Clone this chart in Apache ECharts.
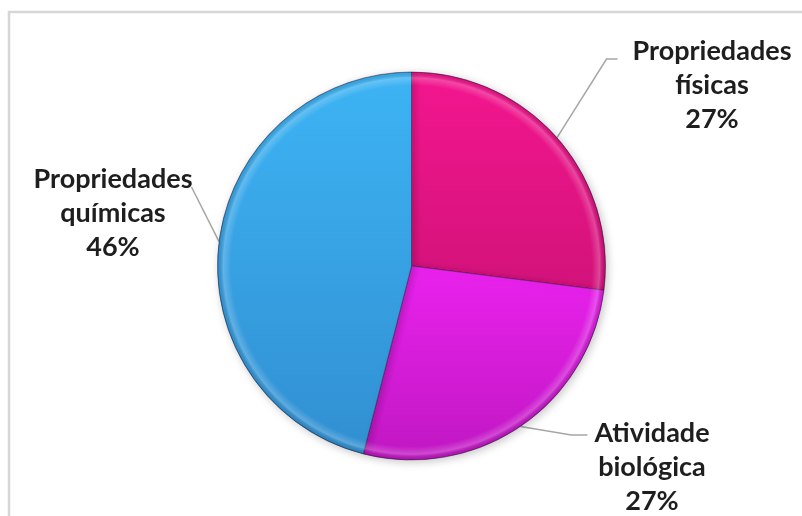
<!DOCTYPE html>
<html>
<head>
<meta charset="utf-8">
<script src="https://cdn.jsdelivr.net/npm/echarts@6/dist/echarts.min.js"></script>
<style>
  html, body { margin: 0; padding: 0; background: #ffffff; }
  #chart { width: 802px; height: 516px; }
</style>
</head>
<body>
<div id="chart"></div>
<script>
// Share of topics (percent), clockwise from 12 o'clock
const categories = ['Propriedades\nfísicas', 'Atividade\nbiológica', 'Propriedades\nquímicas'];
const values = [27, 27, 46];

// slice fill: lighter at the top, darker towards the bottom
const sliceTop = ['#F4168F', '#EA22EE', '#3DB4F5'];
const sliceBottom = ['#D2127A', '#C017C2', '#318FD1'];

const CX = 411.5, CY = 266, R = 194;
const LINE_H = 34;

// where each label block is centred and how its leader line attaches
const labelPlacement = [
  { x: 712, y: 85, side: 'left', gap: 15, dy: 8, elbow: 11 },
  { x: 652, y: 467, side: 'left', gap: 7, dy: 2, elbow: 16 },
  { x: 113, y: 213, side: 'right', gap: -1, dy: 8, elbow: 0 }
];

const chart = echarts.init(document.getElementById('chart'));

const pieData = categories.map(function (name, i) {
  return {
    name: name,
    value: values[i],
    itemStyle: {
      color: new echarts.graphic.LinearGradient(0, 0, 0, 1, [
        { offset: 0, color: sliceTop[i] },
        { offset: 1, color: sliceBottom[i] }
      ])
    }
  };
});

chart.setOption({
  backgroundColor: '#ffffff',
  animation: false,
  graphic: [{
    type: 'rect',
    silent: true,
    z: -10,
    shape: { x: 9, y: 12, width: 820, height: 540 },
    style: { fill: 'none', stroke: '#D6D6D6', lineWidth: 2.5 }
  }],
  series: [
    {
      type: 'pie',
      center: [CX, CY],
      radius: R,
      startAngle: 90,
      clockwise: true,
      avoidLabelOverlap: false,
      percentPrecision: 0,
      data: pieData,
      itemStyle: {
        borderColor: 'rgba(40, 20, 60, 0.45)',
        borderWidth: 1,
        shadowBlur: 8,
        shadowColor: 'rgba(0, 0, 0, 0.22)',
        shadowOffsetX: 2,
        shadowOffsetY: 2
      },
      label: {
        show: true,
        position: 'outside',
        formatter: '{b}\n{d}%',
        fontFamily: 'Lato',
        fontWeight: 'bold',
        fontSize: 27,
        lineHeight: LINE_H,
        color: '#1E1E1E',
        align: 'center'
      },
      labelLine: {
        show: true,
        length: 20,
        length2: 10,
        lineStyle: { color: '#A6A6A6', width: 1.5 }
      },
      labelLayout: function (params) {
        const p = labelPlacement[params.dataIndex];
        const w = params.labelRect.width;
        const h = params.labelRect.height;
        const lineY = p.y - h / 2 + LINE_H / 2 + p.dy;
        const endX = p.side === 'left' ? p.x - w / 2 - p.gap : p.x + w / 2 + p.gap;
        const elbowX = p.side === 'left' ? endX - p.elbow : endX + p.elbow;
        const start = params.labelLinePoints ? params.labelLinePoints[0] : [endX, lineY];
        return {
          x: p.x,
          y: p.y,
          align: 'center',
          verticalAlign: 'middle',
          labelLinePoints: [start, [elbowX, lineY], [endX, lineY]]
        };
      },
      emphasis: { disabled: true }
    },
    {
      // bevelled rim drawn over the slices
      type: 'pie',
      center: [CX, CY],
      radius: R,
      startAngle: 90,
      clockwise: true,
      silent: true,
      z: 3,
      data: values.map(function (v) { return { value: v }; }),
      label: { show: false },
      labelLine: { show: false },
      itemStyle: {
        borderWidth: 0,
        color: new echarts.graphic.RadialGradient(CX, CY, R, [
          { offset: 0, color: 'rgba(255,255,255,0)' },
          { offset: 0.93, color: 'rgba(255,255,255,0)' },
          { offset: 0.97, color: 'rgba(255,255,255,0.22)' },
          { offset: 0.993, color: 'rgba(0,0,0,0.08)' },
          { offset: 1, color: 'rgba(0,0,0,0.3)' }
        ], true)
      },
      emphasis: { disabled: true }
    }
  ]
});
</script>
</body>
</html>
